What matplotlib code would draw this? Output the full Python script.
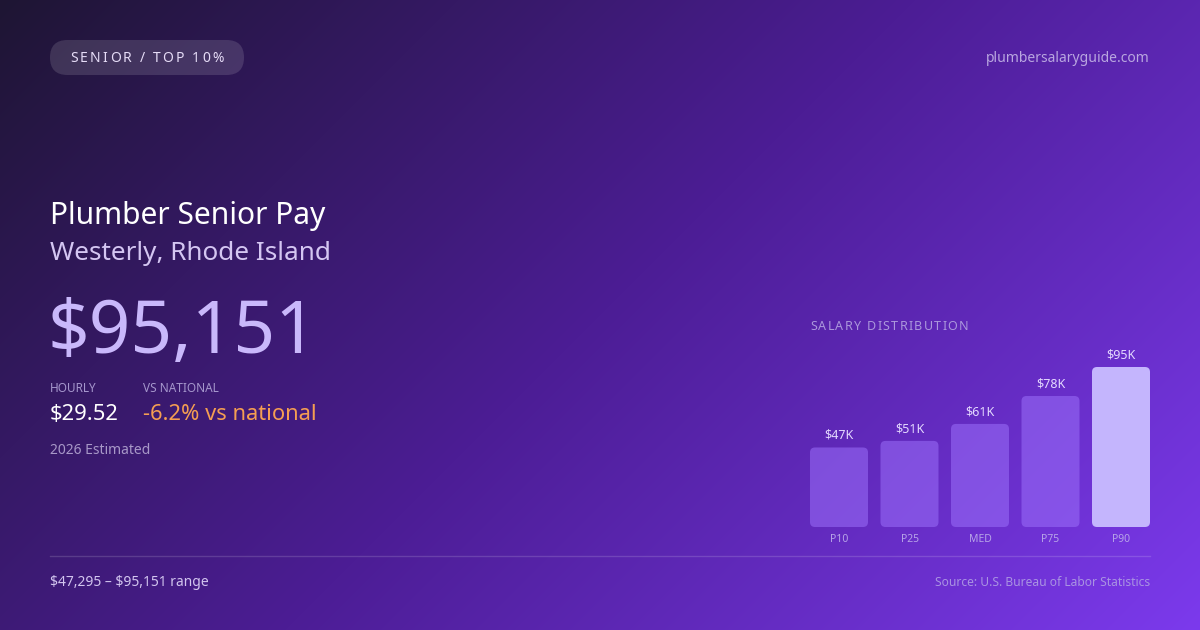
import matplotlib
matplotlib.use('Agg')
import matplotlib.pyplot as plt
from matplotlib.patches import FancyBboxPatch
import numpy as np

plt.rcParams['font.family'] = ['Noto Sans', 'DejaVu Sans']

# data
labels = ['P10', 'P25', 'MED', 'P75', 'P90']
salaries = [47295, 51200, 61300, 77900, 95151]
value_labels = ['$47K', '$51K', '$61K', '$78K', '$95K']
bar_colors = ['#9b6ffa', '#9b6ffa', '#9b6ffa', '#9b6ffa', '#c4b5fd']
bar_alphas = [0.55, 0.55, 0.55, 0.55, 1.0]

W, H = 1200, 630
fig = plt.figure(figsize=(12, 6.3), dpi=100)
ax = fig.add_axes([0, 0, 1, 1])
ax.set_xlim(0, W)
ax.set_ylim(H, 0)
ax.axis('off')

# background gradient (135deg)
yy, xx = np.mgrid[0:H, 0:W]
L = W * 0.7071 + H * 0.7071
t = ((xx - W / 2) * 0.7071 + (yy - H / 2) * 0.7071) / L + 0.5
stops = [0.0, 0.5, 1.0]
cols = np.array([[0x1e, 0x15, 0x33], [0x4c, 0x1d, 0x95], [0x7c, 0x3a, 0xed]]) / 255.0
img = np.zeros((H, W, 3))
for c in range(3):
    img[..., c] = np.interp(t, stops, cols[:, c])
ax.imshow(img, extent=(0, W, H, 0), aspect='auto', zorder=0)

renderer = fig.canvas.get_renderer()


def text_w(s, size):
    tt = ax.text(0, 0, s, fontsize=size)
    w = tt.get_window_extent(renderer).width
    tt.remove()
    return w


def spaced_text(x, y, s, size, spacing, color, center=False):
    ref = text_w('HH', size)
    adv = [text_w('H' + ch + 'H', size) - ref for ch in s]
    total = sum(adv) + spacing * (len(s) - 1)
    cx = x - total / 2 if center else x
    for ch, a in zip(s, adv):
        ax.text(cx, y, ch, fontsize=size, color=color, va='center', ha='left')
        cx += a + spacing


# badge
ax.add_patch(FancyBboxPatch((50, 40), 194, 35, boxstyle='round,pad=0,rounding_size=17.5',
                            facecolor='white', alpha=0.13, edgecolor='none', zorder=1))
spaced_text(147, 58.5, 'SENIOR / TOP 10%', 10, 2.2, '#e6dcf7', center=True)

ax.text(1150, 59, 'plumbersalaryguide.com', fontsize=10, color='#b9a6e0', ha='right', va='center')

# headline
ax.text(50, 216, 'Plumber Senior Pay', fontsize=21.6, color='white', va='center')
ax.text(50, 253, 'Westerly, Rhode Island', fontsize=18.8, color='#d4c6f2', va='center')
ax.text(48, 334, '$95,151', fontsize=52.5, color='#c9b8fb', va='center')

ax.text(50, 389, 'HOURLY', fontsize=8.5, color='#a596cc', va='center')
ax.text(143, 389, 'VS NATIONAL', fontsize=8.5, color='#a596cc', va='center')
ax.text(50, 415, '$29.52', fontsize=15.8, color='white', va='center')
ax.text(143, 415, '-6.2% vs national', fontsize=15.8, color='#f59e52', va='center')
ax.text(50, 450, '2026 Estimated', fontsize=10, color='#a898c8', va='center')

spaced_text(810, 327, 'SALARY DISTRIBUTION', 9, 1.3, '#ab97dc')

# divider and footer
ax.plot([50, 1150], [556, 556], color='white', alpha=0.15, lw=1)
ax.text(50, 582, '\\$47,295 \u2013 \\$95,151 range', fontsize=10, color='#d2c5ef', va='center')
ax.text(1150, 582, 'Source: U.S. Bureau of Labor Statistics', fontsize=8.7, color='#a993e2',
        ha='right', va='center')

# bars
bx0, bx1, by_top, by_bot = 810, 1150, 367, 527
axb = fig.add_axes([bx0 / W, (H - by_bot) / H, (bx1 - bx0) / W, (by_bot - by_top) / H])
axb.patch.set_alpha(0)
axb.axis('off')
step = 70.5
bw = 58 / step
axb.set_xlim(-bw / 2, len(labels) - 1 + bw / 2)
axb.set_ylim(0, max(salaries))
x = np.arange(len(labels))
bars = axb.bar(x, salaries, width=bw)
yunits_per_px = max(salaries) / (by_bot - by_top)
xunits_per_px = 1 / step
for b, c, a in zip(bars, bar_colors, bar_alphas):
    b.set_visible(False)
    rp = FancyBboxPatch((b.get_x(), b.get_y()), b.get_width(), b.get_height(),
                        boxstyle='round,pad=0,rounding_size=%f' % (5 * xunits_per_px),
                        mutation_aspect=yunits_per_px / xunits_per_px,
                        facecolor=c, alpha=a, edgecolor='none')
    axb.add_patch(rp)

for xi, v, vl, lb in zip(x, salaries, value_labels, labels):
    axb.annotate(vl, (xi, v), xytext=(0, 8.8), textcoords='offset points', ha='center',
                 va='center', fontsize=9, color='#e4d9ff', annotation_clip=False)
    axb.annotate(lb, (xi, 0), xytext=(0, -9.2), textcoords='offset points', ha='center',
                 va='center', fontsize=7.5, color='#b7a4e8', annotation_clip=False)

fig.savefig('out.png', dpi=100)
